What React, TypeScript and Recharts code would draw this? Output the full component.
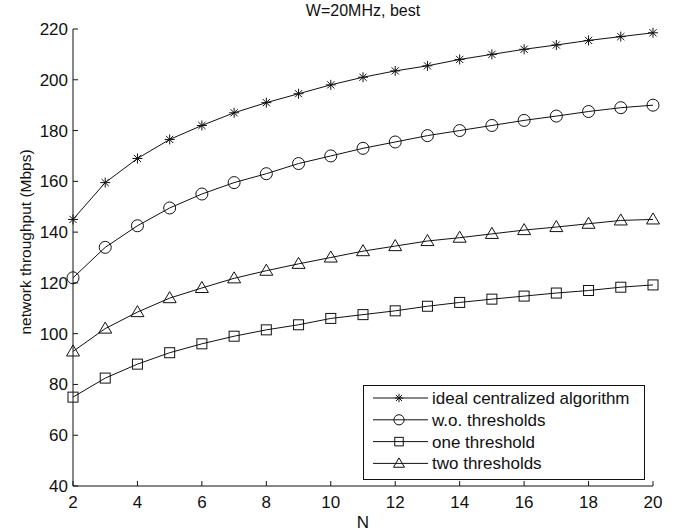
import React from "react";
import { LineChart, Line, XAxis, YAxis, Legend } from "recharts";

const nValues = [2, 3, 4, 5, 6, 7, 8, 9, 10, 11, 12, 13, 14, 15, 16, 17, 18, 19, 20];
const idealCentralized = [145, 159.5, 169, 176.5, 182, 187, 191, 194.5, 198, 201, 203.5, 205.5, 208, 210, 212, 213.7, 215.5, 217, 218.5];
const woThresholds = [122, 134, 142.5, 149.5, 155, 159.5, 163, 167, 170, 173, 175.5, 178, 180, 182, 184, 185.7, 187.5, 189, 190];
const oneThreshold = [75, 82.5, 88, 92.5, 96, 99, 101.5, 103.5, 106, 107.5, 109, 110.8, 112.3, 113.6, 114.8, 116, 117, 118.3, 119.2];
const twoThresholds = [93, 102, 108.5, 114, 118, 121.8, 124.8, 127.5, 130, 132.5, 134.5, 136.5, 137.8, 139.3, 140.8, 142, 143.3, 144.6, 145];

const xTicks = [2, 4, 6, 8, 10, 12, 14, 16, 18, 20];
const yTicks = [40, 60, 80, 100, 120, 140, 160, 180, 200, 220];

const seriesList = [
  { key: "ideal", name: "ideal centralized algorithm", marker: "star" },
  { key: "wo", name: "w.o. thresholds", marker: "circle" },
  { key: "one", name: "one threshold", marker: "square" },
  { key: "two", name: "two thresholds", marker: "triangle" },
];

const data = nValues.map((n, i) => ({
  n,
  ideal: idealCentralized[i],
  wo: woThresholds[i],
  one: oneThreshold[i],
  two: twoThresholds[i],
}));

const FONT = "'Liberation Sans', Arial, Helvetica, sans-serif";
const INK = "#111";

// matlab style markers, open with black edge
const Marker = ({ kind, cx, cy, s = 1 }: { kind: string; cx: number; cy: number; s?: number }) => {
  if (kind === "star") {
    const d = 5 * s;
    const e = 3.6 * s;
    return (
      <g stroke={INK} strokeWidth={1}>
        <line x1={cx - d} y1={cy} x2={cx + d} y2={cy} />
        <line x1={cx} y1={cy - d} x2={cx} y2={cy + d} />
        <line x1={cx - e} y1={cy - e} x2={cx + e} y2={cy + e} />
        <line x1={cx - e} y1={cy + e} x2={cx + e} y2={cy - e} />
      </g>
    );
  }
  if (kind === "circle") {
    return <circle cx={cx} cy={cy} r={6 * s} fill="none" stroke={INK} strokeWidth={1} />;
  }
  if (kind === "square") {
    const h = 5 * s;
    return <rect x={cx - h} y={cy - h} width={2 * h} height={2 * h} fill="none" stroke={INK} strokeWidth={1} />;
  }
  const t = 6.5 * s;
  return (
    <polygon
      points={`${cx},${cy - t} ${cx - t},${cy + 0.7 * t} ${cx + t},${cy + 0.7 * t}`}
      fill="none"
      stroke={INK}
      strokeWidth={1}
    />
  );
};

const makeDot = (kind: string) => (props: any) => {
  const { cx, cy, index } = props;
  if (cx == null || cy == null) return <g key={`d${index}`} />;
  return (
    <g key={`d${kind}${index}`}>
      <Marker kind={kind} cx={cx} cy={cy} />
    </g>
  );
};

const BottomTick = (props: any) => {
  const { x, y, payload } = props;
  return (
    <g>
      <line x1={x} y1={y} x2={x} y2={y - 5} stroke={INK} />
      <text x={x} y={y + 22} textAnchor="middle" fontSize={17} fontFamily={FONT} fill={INK}>
        {payload.value}
      </text>
    </g>
  );
};

const TopTick = (props: any) => {
  const { x, y } = props;
  return <line x1={x} y1={y} x2={x} y2={y + 5} stroke={INK} />;
};

const LeftTick = (props: any) => {
  const { x, y, payload } = props;
  return (
    <g>
      <line x1={x} y1={y} x2={x + 5} y2={y} stroke={INK} />
      <text x={x - 5} y={y + 6} textAnchor="end" fontSize={17} fontFamily={FONT} fill={INK}>
        {payload.value}
      </text>
    </g>
  );
};

const RightTick = (props: any) => {
  const { x, y } = props;
  return <line x1={x} y1={y} x2={x - 5} y2={y} stroke={INK} />;
};

const LegendBox = () => (
  <svg width={283} height={96} style={{ display: "block" }}>
    <rect x={0.5} y={0.5} width={281} height={94} fill="#fff" stroke={INK} strokeWidth={1} />
    {seriesList.map((s, i) => {
      const y = 13 + i * 21.8;
      return (
        <g key={s.key}>
          <line x1={10} y1={y} x2={65} y2={y} stroke={INK} strokeWidth={1} />
          <Marker kind={s.marker} cx={36} cy={y} s={0.85} />
          <text x={69} y={y + 6} fontSize={17} fontFamily={FONT} fill={INK}>
            {s.name}
          </text>
        </g>
      );
    })}
  </svg>
);

export default function App() {
  return (
    <div style={{ position: "absolute", left: 0, top: 0, background: "#fff" }}>
      <LineChart width={679} height={531} data={data} margin={{ top: 29, right: 26, bottom: 0, left: 0 }}>
        <XAxis
          dataKey="n"
          type="number"
          domain={[2, 20]}
          ticks={xTicks}
          height={45}
          tickSize={0}
          tickMargin={0}
          tick={<BottomTick />}
          axisLine={{ stroke: INK }}
        />
        <XAxis
          xAxisId="top"
          dataKey="n"
          type="number"
          orientation="top"
          domain={[2, 20]}
          ticks={xTicks}
          height={0}
          tickSize={0}
          tickMargin={0}
          tick={<TopTick />}
          axisLine={{ stroke: INK }}
        />
        <YAxis
          type="number"
          domain={[40, 220]}
          ticks={yTicks}
          width={73}
          tickSize={0}
          tickMargin={0}
          tick={<LeftTick />}
          axisLine={{ stroke: INK }}
        />
        <YAxis
          yAxisId="right"
          orientation="right"
          type="number"
          domain={[40, 220]}
          ticks={yTicks}
          width={0}
          tickSize={0}
          tickMargin={0}
          tick={<RightTick />}
          axisLine={{ stroke: INK }}
        />
        {seriesList.map((s) => (
          <Line
            key={s.key}
            dataKey={s.key}
            name={s.name}
            type="linear"
            stroke={INK}
            strokeWidth={1}
            dot={makeDot(s.marker)}
            activeDot={false}
            isAnimationActive={false}
          />
        ))}
        <Legend
          layout="vertical"
          align="center"
          verticalAlign="middle"
          content={<LegendBox />}
          wrapperStyle={{ position: "absolute", left: 363, top: 385, width: 283, height: 96 }}
        />
        <text x={363} y={16} textAnchor="middle" fontSize={16} fontFamily={FONT} fill={INK}>
          W=20MHz, best
        </text>
        <text x={363} y={528} textAnchor="middle" fontSize={17} fontFamily={FONT} fill={INK}>
          N
        </text>
        <text
          x={31}
          y={242}
          transform="rotate(-90, 31, 242)"
          textAnchor="middle"
          fontSize={15.5}
          fontFamily={FONT}
          fill={INK}
        >
          network throughput (Mbps)
        </text>
      </LineChart>
    </div>
  );
}
